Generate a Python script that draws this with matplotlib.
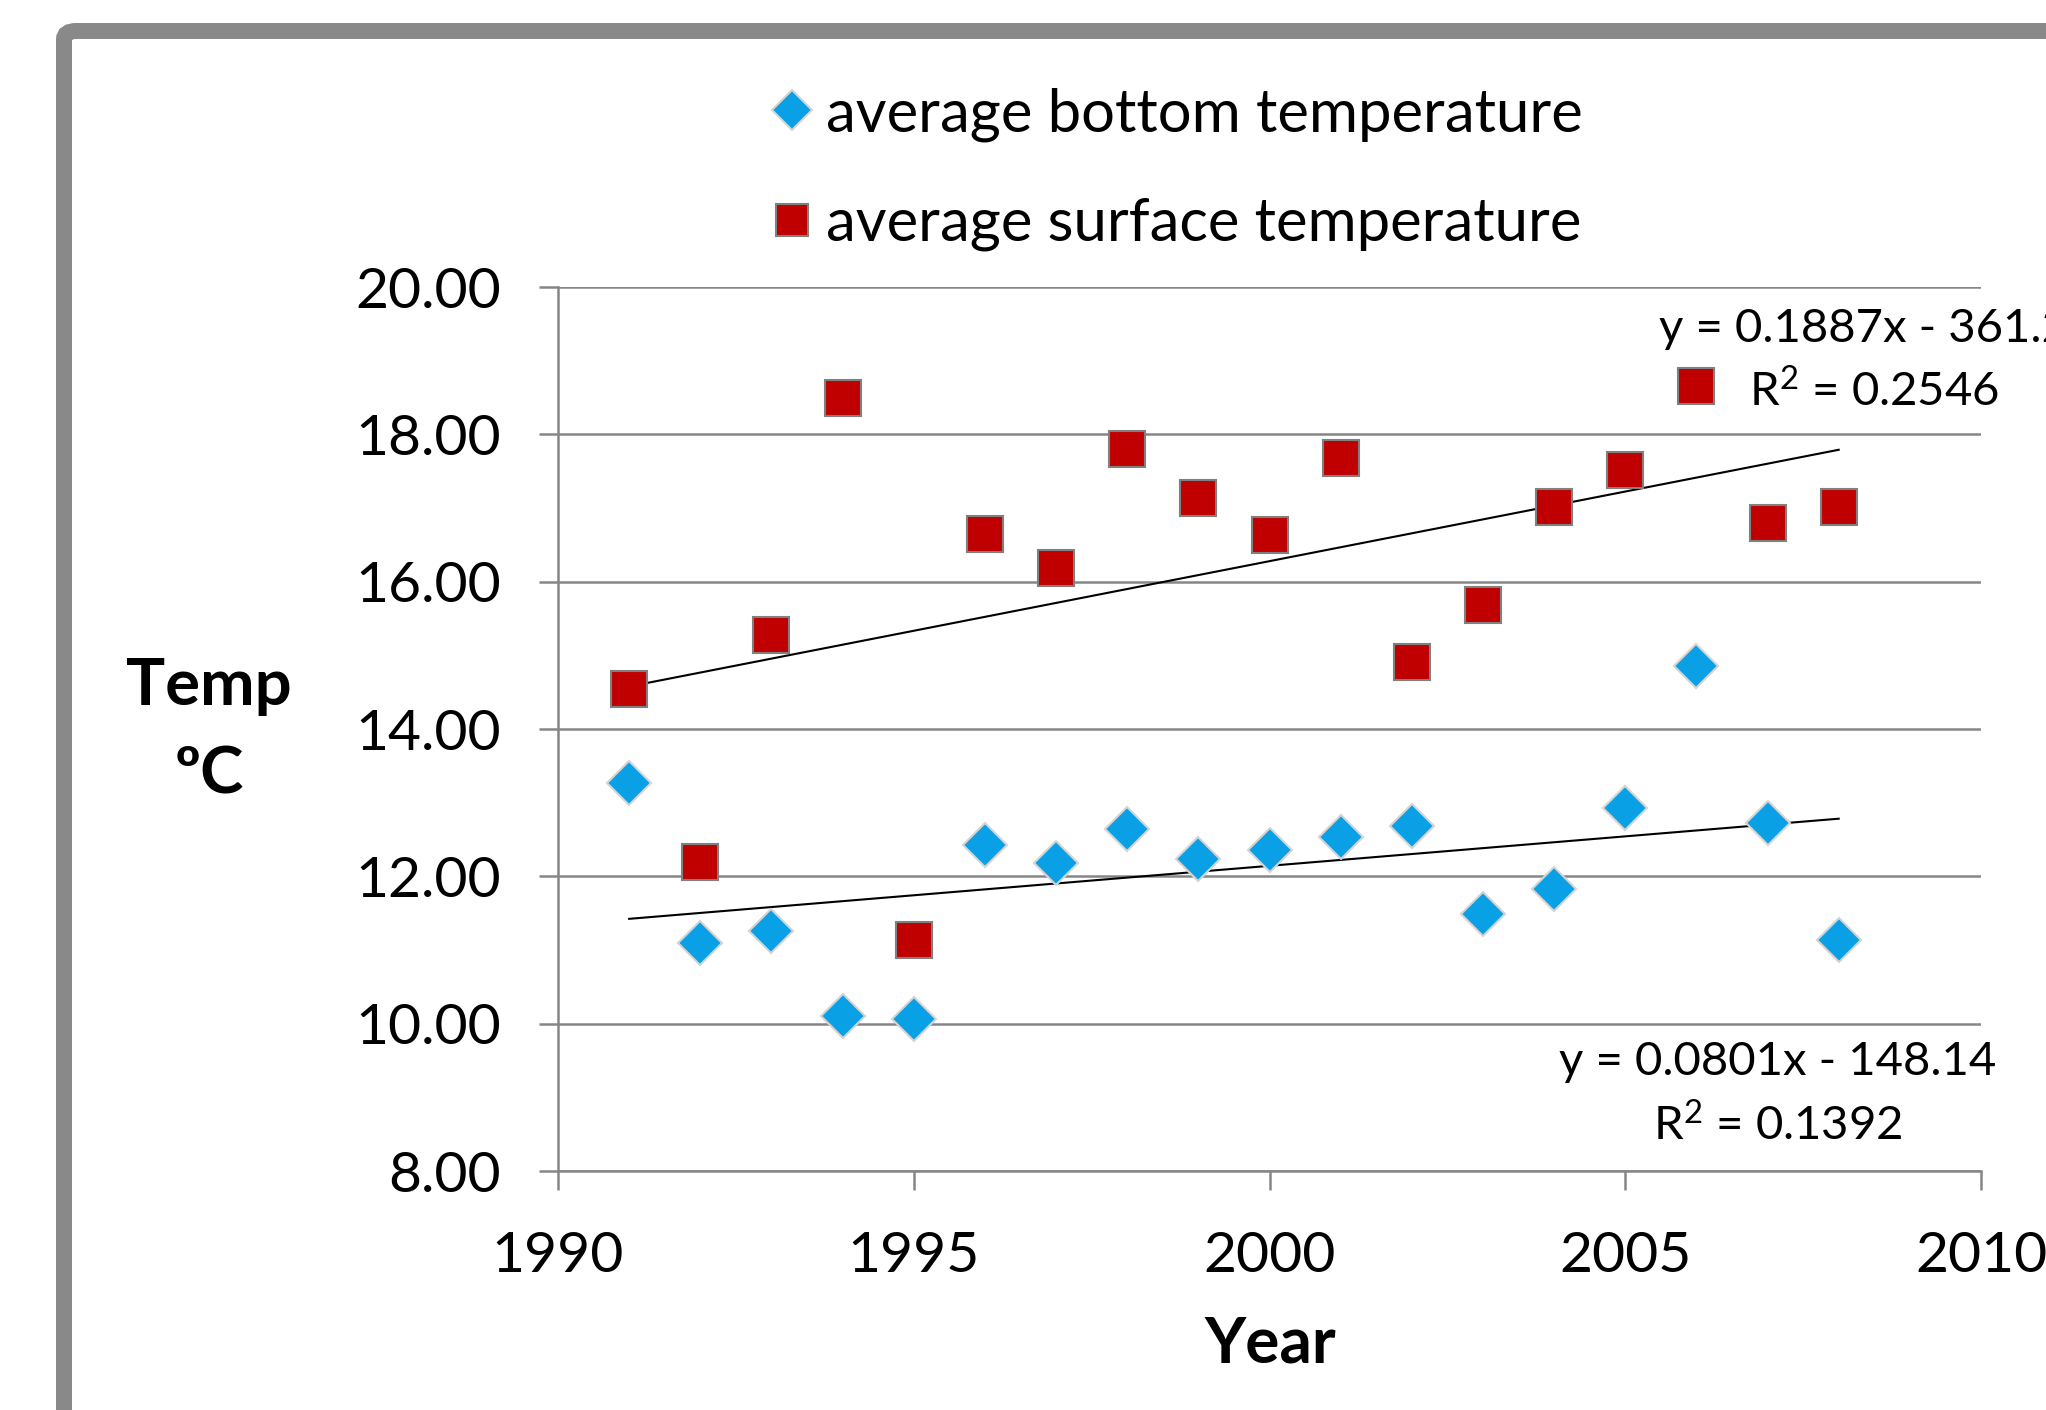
import numpy as np
import matplotlib
matplotlib.use("Agg")
import matplotlib.pyplot as plt
from matplotlib.patches import FancyBboxPatch

plt.rcParams['font.family'] = ['Lato', 'DejaVu Sans']
plt.rcParams['mathtext.fontset'] = 'custom'
plt.rcParams['mathtext.rm'] = 'Lato'

# data
years = [1991, 1992, 1993, 1994, 1995, 1996, 1997, 1998, 1999,
         2000, 2001, 2002, 2003, 2004, 2005, 2006, 2007, 2008]
bottom_temp = [13.27, 11.10, 11.26, 10.11, 10.07, 12.43, 12.18, 12.64, 12.24,
               12.36, 12.54, 12.68, 11.49, 11.83, 12.93, 14.86, 12.72, 11.14]
surface_temp = [14.54, 12.20, 15.27, 18.49, 11.14, 16.65, 16.19, 17.80, 17.13,
                16.63, 17.68, 14.91, 15.68, 17.02, 17.52, 18.65, 16.79, 17.02]
y_ticks = [8, 10, 12, 14, 16, 18, 20]
x_ticks = [1990, 1995, 2000, 2005, 2010]
bottom_eq = "y = 0.0801x - 148.14"
bottom_r2 = r"R$\mathregular{^2}$ = 0.1392"
surface_eq = "y = 0.1887x - 361.2"
surface_r2 = r"R$\mathregular{^2}$ = 0.2546"

W, H = 2046, 1410
fig = plt.figure(figsize=(W / 100, H / 100), dpi=100)

# gray rounded frame (runs off the right and bottom edges, as in the original)
frame = FancyBboxPatch((64 / W, -0.2), 1.2, 1 - 31 / H + 0.2,
                       boxstyle="round,pad=0,rounding_size=0.006",
                       transform=fig.transFigure, facecolor='none',
                       edgecolor='#898989', linewidth=11.5, clip_on=False)
fig.patches.append(frame)

ax = fig.add_axes([558 / W, 1 - 1171 / H, (1981 - 558) / W, (1171 - 287) / H])
ax.set_xlim(1990, 2010)
ax.set_ylim(8, 20)
ax.set_xticks(x_ticks)
ax.set_yticks(y_ticks)
ax.set_yticklabels([f"{v:.2f}" for v in y_ticks])
ax.grid(axis='y', color='#868686', linewidth=1.8)
ax.set_axisbelow(True)
for s in ['top', 'right']:
    ax.spines[s].set_visible(False)
for s in ['left', 'bottom']:
    ax.spines[s].set_color('#868686')
    ax.spines[s].set_linewidth(1.8)
ax.tick_params(axis='both', colors='#868686', width=1.8, length=14,
               labelcolor='black', labelsize=41)
ax.tick_params(axis='y', pad=27)
ax.tick_params(axis='x', pad=29)

# linear trendlines
yr = np.array(years, dtype=float)
xs = np.array([years[0], years[-1]], dtype=float)
for vals in (bottom_temp, surface_temp):
    k, b = np.polyfit(yr, vals, 1)
    ax.plot(xs, k * xs + b, color='black', linewidth=1.5, zorder=2)

ax.plot(years, bottom_temp, linestyle='none', marker='D', markersize=22.5,
        markerfacecolor='#0AA0E6', markeredgecolor='#D4D4D4', markeredgewidth=1.5,
        label='average bottom temperature', zorder=3, clip_on=False)
ax.plot(years, surface_temp, linestyle='none', marker='s', markersize=26,
        markerfacecolor='#C00000', markeredgecolor='#808080', markeredgewidth=1.5,
        label='average surface temperature', zorder=3, clip_on=False)

fig.legend(loc='center left', bbox_to_anchor=(738 / W, 1 - 169 / H),
           frameon=False, fontsize=43, handlelength=0.8, handletextpad=0.18,
           labelspacing=0.92, borderpad=0, markerscale=0.9)

# trendline labels
fig.text(1778 / W, 1 - 1062 / H, bottom_eq, ha='center', va='center', fontsize=34)
fig.text(1778 / W, 1 - 1125 / H, bottom_r2, ha='center', va='center', fontsize=34)
fig.text(1659 / W, 1 - 329 / H, surface_eq, ha='left', va='center', fontsize=34)
fig.text(1874 / W, 1 - 391 / H, surface_r2, ha='center', va='center', fontsize=34)

fig.text(209 / W, 1 - 731 / H, "Temp\nºC", ha='center', va='center',
         fontsize=47, fontweight='bold', linespacing=1.62)
fig.text(1270 / W, 1 - 1344 / H, "Year", ha='center', va='center',
         fontsize=46, fontweight='bold')

fig.savefig("out.png", dpi=100)
